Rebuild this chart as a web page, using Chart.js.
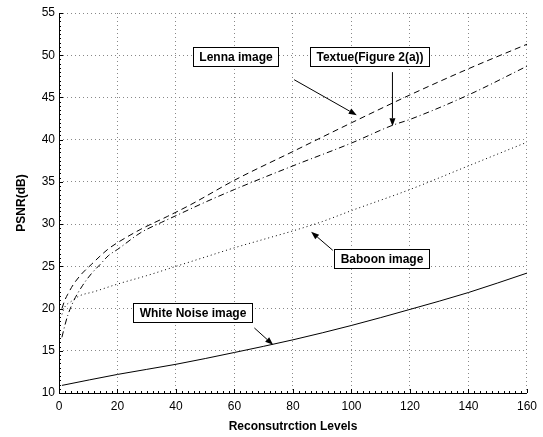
<!DOCTYPE html>
<html lang="en">
<head>
    <meta charset="UTF-8">
    <title>PSNR vs Reconstruction Levels</title>
    <script src="https://cdn.jsdelivr.net/npm/chart.js"></script>
    <style>
        html, body { margin: 0; padding: 0; background: #fff; }
        #wrap { width: 543px; height: 437px; position: relative; }
    </style>
</head>
<body>
<div id="wrap"><canvas id="psnrChart"></canvas></div>
<script>
// values
const lennaLevels   = [1, 2, 3, 5, 8, 11, 14, 17, 20, 28, 37, 45, 60, 80, 100, 120, 140, 160];
const lennaPsnr     = [20.0, 21.0, 21.7, 22.9, 24.2, 25.2, 26.2, 27.1, 27.8, 29.4, 30.9, 32.3, 35.2, 38.6, 42.0, 45.3, 48.4, 51.3];

const textureLevels = [1, 2, 3, 5, 8, 11, 14, 17, 20, 28, 35, 40, 50, 60, 80, 100, 114, 120, 140, 160];
const texturePsnr   = [16.6, 18.0, 19.2, 20.9, 22.7, 24.1, 25.2, 26.3, 27.0, 29.0, 30.2, 31.0, 32.6, 34.1, 36.9, 39.6, 41.7, 42.4, 45.3, 48.7];

const baboonLevels  = [1, 2, 4, 7, 12, 20, 30, 40, 50, 60, 70, 80, 90, 100, 120, 140, 160];
const baboonPsnr    = [19.3, 20.2, 20.8, 21.5, 22.0, 22.9, 23.9, 25.0, 26.1, 27.2, 28.2, 29.2, 30.3, 31.6, 34.1, 36.9, 39.7];

const noiseLevels   = [1, 20, 40, 60, 80, 100, 120, 140, 160];
const noisePsnr     = [10.9, 12.2, 13.4, 14.8, 16.3, 18.0, 19.9, 21.9, 24.2];

const xTicks = [0, 20, 40, 60, 80, 100, 120, 140, 160];
const yTicks = [10, 15, 20, 25, 30, 35, 40, 45, 50, 55];

// text boxes with arrows (data coordinates)
const notes = [
    { text: 'Lenna image',        at: [60.2, 49.9],  from: [80.4, 47.1],  to: [101.8, 42.9] },
    { text: 'Textue(Figure 2(a))', at: [106, 49.8],   from: [114, 48.0],   to: [114, 41.6] },
    { text: 'Baboon image',       at: [110.1, 25.9], from: [93.6, 26.9],  to: [86.2, 29.1] },
    { text: 'White Noise image',  at: [45.7, 19.55], from: [66.8, 17.7],  to: [73.2, 15.7] }
];

function pts(xs, ys) {
    return xs.map((x, i) => ({ x: x, y: ys[i] }));
}

const FONT = '"Liberation Sans", Arial, Helvetica, sans-serif';

const axisDecor = {
    id: 'axisDecor',
    afterDraw(chart) {
        const ctx = chart.ctx;
        const a = chart.chartArea;
        const xs = chart.scales.x, ys = chart.scales.y;
        ctx.save();
        ctx.strokeStyle = '#000';
        ctx.lineWidth = 1;
        ctx.beginPath();
        // axes
        ctx.moveTo(a.left + 0.5, a.top);
        ctx.lineTo(a.left + 0.5, a.bottom + 0.5);
        ctx.lineTo(a.right, a.bottom + 0.5);
        // minor ticks
        for (let v = 0; v <= 160; v += 2) {
            const px = Math.round(xs.getPixelForValue(v)) + 0.5;
            ctx.moveTo(px, a.bottom);
            ctx.lineTo(px, a.bottom - 2);
        }
        for (let v = 10; v <= 55; v += 0.5) {
            const py = Math.round(ys.getPixelForValue(v)) + 0.5;
            ctx.moveTo(a.left, py);
            ctx.lineTo(a.left + 2, py);
        }
        // major ticks, inward
        xTicks.forEach(v => {
            const px = Math.round(xs.getPixelForValue(v)) + 0.5;
            ctx.moveTo(px, a.bottom);
            ctx.lineTo(px, a.bottom - 4);
        });
        yTicks.forEach(v => {
            const py = Math.round(ys.getPixelForValue(v)) + 0.5;
            ctx.moveTo(a.left, py);
            ctx.lineTo(a.left + 4, py);
        });
        ctx.stroke();

        // annotations
        ctx.font = 'bold 12px ' + FONT;
        ctx.textAlign = 'center';
        ctx.textBaseline = 'middle';
        notes.forEach(n => {
            const x1 = xs.getPixelForValue(n.from[0]), y1 = ys.getPixelForValue(n.from[1]);
            const x2 = xs.getPixelForValue(n.to[0]),   y2 = ys.getPixelForValue(n.to[1]);
            const ang = Math.atan2(y2 - y1, x2 - x1);
            const hl = 8, hw = 3;
            ctx.beginPath();
            ctx.moveTo(x1, y1);
            ctx.lineTo(x2 - hl * Math.cos(ang), y2 - hl * Math.sin(ang));
            ctx.stroke();
            ctx.beginPath();
            ctx.moveTo(x2, y2);
            ctx.lineTo(x2 - hl * Math.cos(ang) + hw * Math.sin(ang), y2 - hl * Math.sin(ang) - hw * Math.cos(ang));
            ctx.lineTo(x2 - hl * Math.cos(ang) - hw * Math.sin(ang), y2 - hl * Math.sin(ang) + hw * Math.cos(ang));
            ctx.closePath();
            ctx.fillStyle = '#000';
            ctx.fill();

            const cx = xs.getPixelForValue(n.at[0]), cy = ys.getPixelForValue(n.at[1]);
            const w = Math.round(ctx.measureText(n.text).width + 12), h = 19;
            const bx = Math.round(cx - w / 2) + 0.5, by = Math.round(cy - h / 2) + 0.5;
            ctx.fillStyle = '#fff';
            ctx.fillRect(bx, by, w, h);
            ctx.strokeRect(bx, by, w, h);
            ctx.fillStyle = '#000';
            ctx.fillText(n.text, bx + w / 2, by + h / 2 + 1);
        });
        ctx.restore();
    }
};

const lineStyle = {
    borderColor: '#000',
    borderWidth: 1,
    pointRadius: 0,
    fill: false,
    cubicInterpolationMode: 'monotone'
};

new Chart(document.getElementById('psnrChart'), {
    type: 'line',
    data: {
        datasets: [
            Object.assign({ label: 'Lenna image', data: pts(lennaLevels, lennaPsnr), borderDash: [6, 4] }, lineStyle),
            Object.assign({ label: 'Textue(Figure 2(a))', data: pts(textureLevels, texturePsnr), borderDash: [6, 3, 1, 3] }, lineStyle),
            Object.assign({ label: 'Baboon image', data: pts(baboonLevels, baboonPsnr), borderDash: [1, 3] }, lineStyle),
            Object.assign({ label: 'White Noise image', data: pts(noiseLevels, noisePsnr) }, lineStyle)
        ]
    },
    options: {
        responsive: true,
        maintainAspectRatio: false,
        animation: false,
        layout: { padding: { top: 13, right: 11, left: 0, bottom: 0 } },
        plugins: { legend: { display: false }, tooltip: { enabled: false } },
        scales: {
            x: {
                type: 'linear',
                min: 0, max: 160,
                afterBuildTicks: s => { s.ticks = xTicks.map(v => ({ value: v })); },
                afterFit: s => { s.height = 44; },
                grid: { color: '#888', lineWidth: 1, drawTicks: false },
                border: { display: false, dash: [1, 3] },
                ticks: { color: '#000', padding: 6, font: { family: FONT, size: 12 }, maxRotation: 0 },
                title: { display: true, text: 'Reconsutrction Levels', color: '#000',
                         font: { family: FONT, size: 12, weight: 'bold' }, padding: { top: 0, bottom: 3 } }
            },
            y: {
                min: 10, max: 55,
                afterBuildTicks: s => { s.ticks = yTicks.map(v => ({ value: v })); },
                afterFit: s => { s.width = 59; },
                grid: { color: '#888', lineWidth: 1, drawTicks: false },
                border: { display: false, dash: [1, 3] },
                ticks: { color: '#000', padding: 4, font: { family: FONT, size: 12 } },
                title: { display: true, text: 'PSNR(dB)', color: '#000',
                         font: { family: FONT, size: 12, weight: 'bold' }, padding: { top: 14, bottom: 0 } }
            }
        }
    },
    plugins: [axisDecor]
});
</script>
</body>
</html>
